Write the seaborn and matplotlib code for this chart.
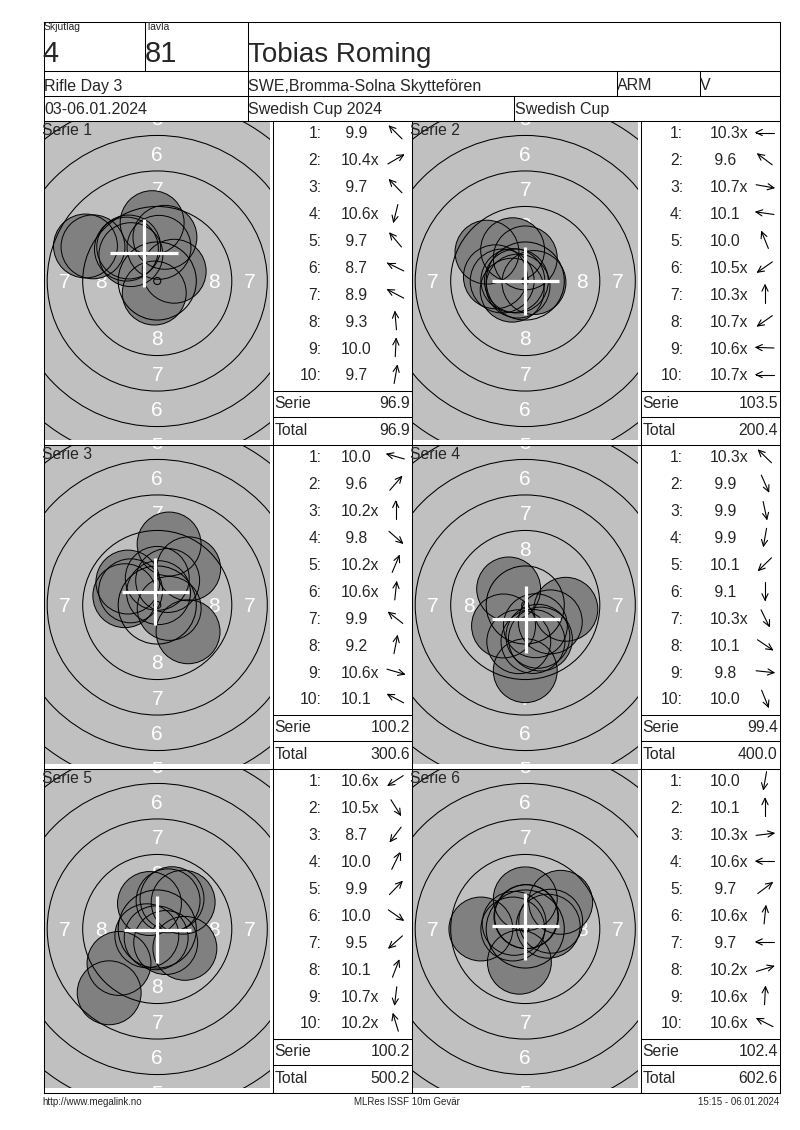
import numpy as np
import pandas as pd
import matplotlib
matplotlib.use("Agg")
import matplotlib.pyplot as plt
from matplotlib.patches import Circle
import seaborn as sns

# ---------------- data ----------------
lbl_squad = "Skjutlag"
lbl_target = "Tavla"
squad = "4"
target_no = "81"
shooter = "Tobias Roming"
event = "Rifle Day 3"
club = "SWE,Bromma-Solna Skyttefören"
cls1 = "ARM"
cls2 = "V"
dates = "03-06.01.2024"
comp1 = "Swedish Cup 2024"
comp2 = "Swedish Cup"
foot_left = "http://www.megalink.no"
foot_mid = "MLRes ISSF 10m Gevär"
foot_right = "15:15 - 06.01.2024"

series_names = ["Serie 1", "Serie 2", "Serie 3", "Serie 4", "Serie 5", "Serie 6"]

s1_scores = ["9.9", "10.4x", "9.7", "10.6x", "9.7", "8.7", "8.9", "9.3", "10.0", "9.7"]
s1_dirs = [135, 30, 134, 256, 130, 154, 152, 95, 87, 80]
s2_scores = ["10.3x", "9.6", "10.7x", "10.1", "10.0", "10.5x", "10.3x", "10.7x", "10.6x", "10.7x"]
s2_dirs = [180, 143, 350, 172, 112, 215, 90, 215, 178, 180]
s3_scores = ["10.0", "9.6", "10.2x", "9.8", "10.2x", "10.6x", "9.9", "9.2", "10.6x", "10.1"]
s3_dirs = [164, 49, 90, 319, 67, 84, 142, 79, 344, 152]
s4_scores = ["10.3x", "9.9", "9.9", "9.9", "10.1", "9.1", "10.3x", "10.1", "9.8", "10.0"]
s4_dirs = [136, 294, 282, 260, 224, 270, 296, 326, 354, 292]
s5_scores = ["10.6x", "10.5x", "8.7", "10.0", "9.9", "10.0", "9.5", "10.1", "10.7x", "10.2x"]
s5_dirs = [213, 302, 233, 64, 46, 325, 222, 69, 263, 107]
s6_scores = ["10.0", "10.1", "10.3x", "10.6x", "9.7", "10.6x", "9.7", "10.2x", "10.6x", "10.6x"]
s6_dirs = [260, 90, 7, 180, 37, 84, 180, 17, 87, 153]

# mean point of impact (white cross), mm from centre
mpi_x = [-0.94, 0.0, -0.14, 0.05, 0.0, 0.0]
mpi_y = [1.97, 0.0, 0.95, -1.0, -0.05, 0.2]

# ring numbers shown on the targets
vert_ring_labels = [5, 6, 7, 8]
horiz_ring_labels = [7, 8]

all_scores = [s1_scores, s2_scores, s3_scores, s4_scores, s5_scores, s6_scores]
all_dirs = [s1_dirs, s2_dirs, s3_dirs, s4_dirs, s5_dirs, s6_dirs]

# ---------------- geometry / style ----------------
W, H = 800, 1130
PXMM = 14.2            # pixels per mm on the target
PELLET_R = 2.25        # mm
RING_R = {n: 0.25 + (10 - n) * 2.5 for n in range(1, 11)}
GRAY_BG = "#c0c0c0"
SHOT = "#808080"

sns.set_theme(style="white")
plt.rcParams["font.family"] = ["Liberation Sans", "DejaVu Sans"]

fig = plt.figure(figsize=(8, 11.3), dpi=100)
fig.patch.set_facecolor("white")

row_tops = [120, 444, 768]
col_x0 = [43, 411]
tab_x0 = [272, 640]
targ_w, targ_h = 225.5, 318

def shot_xy(score_str, ang):
    v = float(score_str.rstrip("x"))
    r = max((11.0 - v - 0.05) * 2.5, 0.1)
    t = np.deg2rad(ang)
    return r * np.cos(t), r * np.sin(t)

marker_s = (2 * PELLET_R * PXMM * 0.72) ** 2   # points^2

for k in range(6):
    r, c = divmod(k, 2)
    top = row_tops[r]
    gx0 = col_x0[c] + 1.5
    gy0 = top + 2
    ax = fig.add_axes([gx0 / W, 1 - (gy0 + targ_h) / H, targ_w / W, targ_h / H])
    hx = targ_w / 2 / PXMM
    hy = targ_h / 2 / PXMM
    ax.set_facecolor(GRAY_BG)
    for sp in ax.spines.values():
        sp.set_visible(False)

    # ring numbers
    off = 0.52
    for n in vert_ring_labels:
        rl = (RING_R[n] + RING_R[n + 1]) / 2
        for ty in (rl, -rl):
            ax.text(0, ty - off, str(n), color="white", fontsize=15,
                    ha="center", va="baseline", clip_on=True, zorder=1)
    for n in horiz_ring_labels:
        rl = (RING_R[n] + RING_R[n + 1]) / 2
        for tx in (-rl, rl):
            ax.text(tx, -off, str(n), color="white", fontsize=15,
                    ha="center", va="baseline", clip_on=True, zorder=1)

    xs, ys = zip(*[shot_xy(s, a) for s, a in zip(all_scores[k], all_dirs[k])])
    df = pd.DataFrame({"x": xs, "y": ys})
    sns.scatterplot(data=df, x="x", y="y", s=marker_s, color=SHOT,
                    edgecolor="none", linewidth=0, legend=False, ax=ax, zorder=2)
    for x, y in zip(xs, ys):
        ax.add_patch(Circle((x, y), PELLET_R, fill=False, ec="black", lw=0.7, zorder=3))

    for n in range(4, 11):
        ax.add_patch(Circle((0, 0), RING_R[n], fill=False, ec="black", lw=0.75, zorder=4))

    L = 2.37
    mx, my = mpi_x[k], mpi_y[k]
    ax.plot([mx - L, mx + L], [my, my], color="white", lw=2.3, solid_capstyle="butt", zorder=5)
    ax.plot([mx, mx], [my - L, my + L], color="white", lw=2.3, solid_capstyle="butt", zorder=5)

    ax.set_xlim(-hx, hx)
    ax.set_ylim(-hy, hy)
    ax.set_xticks([])
    ax.set_yticks([])
    ax.set_xlabel("")
    ax.set_ylabel("")

# ---------------- overlay (grid, texts, arrows) ----------------
ov = fig.add_axes([0, 0, 1, 1], zorder=10)
ov.set_xlim(0, W)
ov.set_ylim(H, 0)
ov.patch.set_alpha(0)
ov.axis("off")

LW = 0.75
def hl(y, x0, x1):
    ov.plot([x0, x1], [y + 0.5, y + 0.5], color="black", lw=LW, solid_capstyle="projecting")
def vl(x, y0, y1):
    ov.plot([x + 0.5, x + 0.5], [y0, y1], color="black", lw=LW, solid_capstyle="projecting")

for y in [21, 70, 95, 120, 444, 768, 1092]:
    hl(y, 43.5, 779.5)
vl(43, 21.5, 1092.5)
vl(779, 21.5, 1092.5)
vl(144, 21.5, 70.5)
vl(247, 21.5, 120.5)
vl(616, 70.5, 95.5)
vl(699, 70.5, 95.5)
vl(513, 95.5, 120.5)
for x in [272, 411, 640]:
    vl(x, 120.5, 1092.5)
for t in row_tops:
    for x0 in tab_x0:
        hl(t + 270, x0 + 0.5, x0 + 139.5)
        hl(t + 296.5, x0 + 0.5, x0 + 139.5)

# header texts
ov.text(44, 30, lbl_squad, fontsize=7.5, va="baseline")
ov.text(146, 30, lbl_target, fontsize=7.5, va="baseline")
ov.text(42.5, 62.5, squad, fontsize=21, va="baseline")
ov.text(145, 62.5, target_no, fontsize=21, va="baseline")
ov.text(248, 61.5, shooter, fontsize=20, va="baseline")
ov.text(44, 90.5, event, fontsize=11.5, va="baseline")
ov.text(248, 90.5, club, fontsize=11.5, va="baseline")
ov.text(617, 90.5, cls1, fontsize=11.5, va="baseline")
ov.text(700, 90.5, cls2, fontsize=11.5, va="baseline")
ov.text(44, 114, dates, fontsize=11.5, va="baseline")
ov.text(248, 114, comp1, fontsize=11.5, va="baseline")
ov.text(515, 114, comp2, fontsize=11.5, va="baseline")

# footer
ov.text(42, 1102, foot_left, fontsize=7, va="center", ha="left")
ov.text(407, 1102, foot_mid, fontsize=7, va="center", ha="center")
ov.text(779, 1102, foot_right, fontsize=7, va="center", ha="right")

def arrow(cx, cy, ang):
    Ln, hlen, hang = 18.0, 7.0, 26
    t = np.deg2rad(ang)
    dx, dy = np.cos(t), -np.sin(t)
    x0, y0 = cx - dx * Ln / 2, cy - dy * Ln / 2
    x1, y1 = cx + dx * Ln / 2, cy + dy * Ln / 2
    ov.plot([x0, x1], [y0, y1], color="black", lw=0.8)
    for sgn in (1, -1):
        a = t + np.pi + sgn * np.deg2rad(hang)
        ov.plot([x1, x1 + hlen * np.cos(a)], [y1, y1 - hlen * np.sin(a)], color="black", lw=0.8)

idx_off = [49.3, 43.0]
score_off = [68.8, 69.5]
arrow_off = [123.7, 125.0]
FS = 11.3
total = 0.0
for k in range(6):
    r, c = divmod(k, 2)
    top = row_tops[r]
    x0 = tab_x0[c]
    ov.text(col_x0[c] - 0.5, top + 14.8, series_names[k], fontsize=FS, va="baseline", ha="left")
    sc = all_scores[k]
    for i, (s, a) in enumerate(zip(sc, all_dirs[k])):
        base = top + 18.3 + 26.9 * i
        ov.text(x0 + idx_off[c], base, f"{i + 1}:", fontsize=FS, ha="right", va="baseline")
        txt = s if float(s.rstrip("x")) >= 10 else " " + s
        ov.text(x0 + score_off[c], base, txt, fontsize=FS, ha="left", va="baseline")
        arrow(x0 + arrow_off[c], base - 5.8, a)
    serie = round(sum(float(s.rstrip("x")) for s in sc), 1)
    total = round(total + serie, 1)
    ov.text(x0 + 2.3, top + 288.3, "Serie", fontsize=FS, va="baseline")
    ov.text(x0 + 137.8, top + 288.3, f"{serie:.1f}", fontsize=FS, va="baseline", ha="right")
    ov.text(x0 + 2.3, top + 315, "Total", fontsize=FS, va="baseline")
    ov.text(x0 + 137.8, top + 315, f"{total:.1f}", fontsize=FS, va="baseline", ha="right")

fig.savefig("out.png", dpi=100, facecolor="white")
